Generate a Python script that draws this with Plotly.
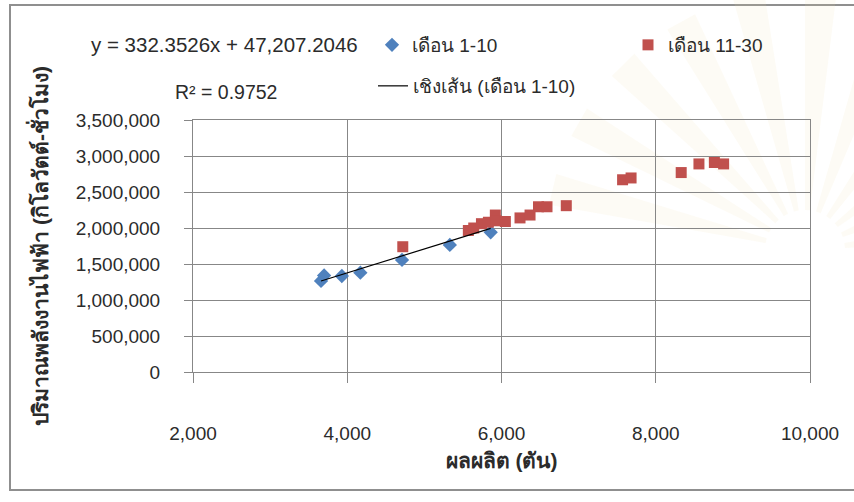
import math
import plotly.graph_objects as go

# Output (tonnes) vs. electricity used (kWh), days 1-10 and days 11-30
days_1_10_x = [3660, 3700, 3930, 4170, 4710, 5330, 5860]
days_1_10_y = [1265000, 1340000, 1333000, 1380000, 1556000, 1765000, 1940000]

days_11_30_x = [4720, 5570, 5640, 5740, 5830, 5920, 5930, 6050, 6240, 6370,
                6480, 6590, 6840, 7570, 7680, 8330, 8560, 8760, 8880]
days_11_30_y = [1740000, 1965000, 2000000, 2060000, 2080000, 2180000, 2100000,
                2090000, 2140000, 2180000, 2295000, 2295000, 2310000, 2670000,
                2695000, 2770000, 2890000, 2910000, 2890000]

# Linear fit over days 1-10
slope = 332.3526
intercept = 47207.2046
r_squared = 0.9752

x_ticks = [2000, 4000, 6000, 8000, 10000]
y_ticks = [0, 500000, 1000000, 1500000, 2000000, 2500000, 3000000, 3500000]

name_a = "เดือน 1-10"
name_b = "เดือน 11-30"
name_fit = "เชิงเส้น (เดือน 1-10)"
x_title = "ผลผลิต (ตัน)"
y_title = "ปริมาณพลังงานไฟฟ้า (กิโลวัตต์-ชั่วโมง)"

W, H = 854, 502
L, R, T, B = 193, 44, 120, 130
PW, PH = W - L - R, H - T - B


def px_x(p):
    return (p - L) / PW


def px_y(p):
    return (H - B - p) / PH


BLUE = "#4F81BD"
RED = "#C0504D"
GRID = "#878787"
TEXT = "#2b2b2b"
FONT = "Liberation Sans, Arial, sans-serif"

fit_x = [min(days_1_10_x), max(days_1_10_x)]
fit_y = [slope * v + intercept for v in fit_x]

fig = go.Figure()
fig.add_trace(go.Scatter(
    x=days_1_10_x, y=days_1_10_y, mode="markers", name=name_a,
    marker=dict(symbol="diamond", size=11, color=BLUE, line=dict(width=0)),
    legend="legend",
))
fig.add_trace(go.Scatter(
    x=days_11_30_x, y=days_11_30_y, mode="markers", name=name_b,
    marker=dict(symbol="square", size=11, color=RED, line=dict(width=0)),
    legend="legend",
))
fig.add_trace(go.Scatter(
    x=fit_x, y=fit_y, mode="lines", name=name_fit,
    line=dict(color="black", width=1.2),
    legend="legend2",
))

eq_text = "y = {:.4f}x + {:,.4f}".format(slope, intercept)
r2_text = "R² = {:.4f}".format(r_squared)

shapes = [
    # chart-area frame
    dict(type="rect", xref="paper", yref="paper",
         x0=px_x(10), x1=px_x(870), y0=px_y(490), y1=px_y(5),
         line=dict(color="#8f8f8f", width=2), fillcolor="rgba(0,0,0,0)",
         layer="below"),
]

# faint emblem rays in the right-hand background
cx, cy = 805, 250
for k in range(11):
    a0 = math.radians(-80 + k * 16)
    a1 = a0 + math.radians(7)
    r0, r1 = 40, 260
    pts = [(cx + r0 * math.sin(a0), cy - r0 * math.cos(a0)),
           (cx + r1 * math.sin(a0), cy - r1 * math.cos(a0)),
           (cx + r1 * math.sin(a1), cy - r1 * math.cos(a1)),
           (cx + r0 * math.sin(a1), cy - r0 * math.cos(a1))]
    path = "M " + " L ".join("{:.4f},{:.4f}".format(px_x(px), px_y(py)) for px, py in pts) + " Z"
    shapes.append(dict(type="path", xref="paper", yref="paper", path=path,
                       fillcolor="rgba(240,222,175,0.12)", line=dict(width=0),
                       layer="below"))

fig.update_layout(
    width=W, height=H,
    margin=dict(l=L, r=R, t=T, b=B, autoexpand=False),
    paper_bgcolor="white",
    plot_bgcolor="rgba(0,0,0,0)",
    font=dict(family=FONT, size=19, color=TEXT),
    showlegend=True,
    legend=dict(
        orientation="h", x=px_x(372), y=px_y(45), xanchor="left", yanchor="middle",
        entrywidth=211, entrywidthmode="pixels",
        bgcolor="rgba(0,0,0,0)", font=dict(family=FONT, size=19, color=TEXT),
        itemclick=False, itemdoubleclick=False,
    ),
    legend2=dict(
        orientation="h", x=px_x(373), y=px_y(86), xanchor="left", yanchor="middle",
        bgcolor="rgba(0,0,0,0)", font=dict(family=FONT, size=19, color=TEXT),
        itemclick=False, itemdoubleclick=False,
    ),
    shapes=shapes,
    annotations=[
        dict(text=eq_text, xref="paper", yref="paper", x=px_x(224), y=px_y(45),
             xanchor="center", yanchor="middle",
             showarrow=False, font=dict(family=FONT, size=20.5, color=TEXT)),
        dict(text=r2_text, xref="paper", yref="paper", x=px_x(226), y=px_y(92),
             xanchor="center", yanchor="middle",
             showarrow=False, font=dict(family=FONT, size=19.5, color=TEXT)),
    ],
)

fig.update_xaxes(
    range=[2000, 10000], tickvals=x_ticks, tickformat=",",
    showgrid=True, gridcolor=GRID, gridwidth=1,
    showline=True, linecolor=GRID, linewidth=1, mirror=True,
    zeroline=False,
    ticks="outside", ticklen=10, tickcolor=GRID, tickwidth=1,
    ticklabelstandoff=34,
    tickfont=dict(family=FONT, size=19, color=TEXT),
    title=dict(text="<b>" + x_title + "</b>", standoff=10,
               font=dict(family=FONT, size=21, color=TEXT)),
)
fig.update_yaxes(
    range=[0, 3500000], tickvals=y_ticks, tickformat=",",
    showgrid=True, gridcolor=GRID, gridwidth=1,
    showline=True, linecolor=GRID, linewidth=1, mirror=True,
    zeroline=False,
    ticks="outside", ticklen=8, tickcolor=GRID, tickwidth=1,
    ticklabelstandoff=20,
    tickfont=dict(family=FONT, size=19, color=TEXT),
    title=dict(text="<b>" + y_title + "</b>", standoff=21,
               font=dict(family=FONT, size=21, color=TEXT)),
)

fig.write_html("out.html")
